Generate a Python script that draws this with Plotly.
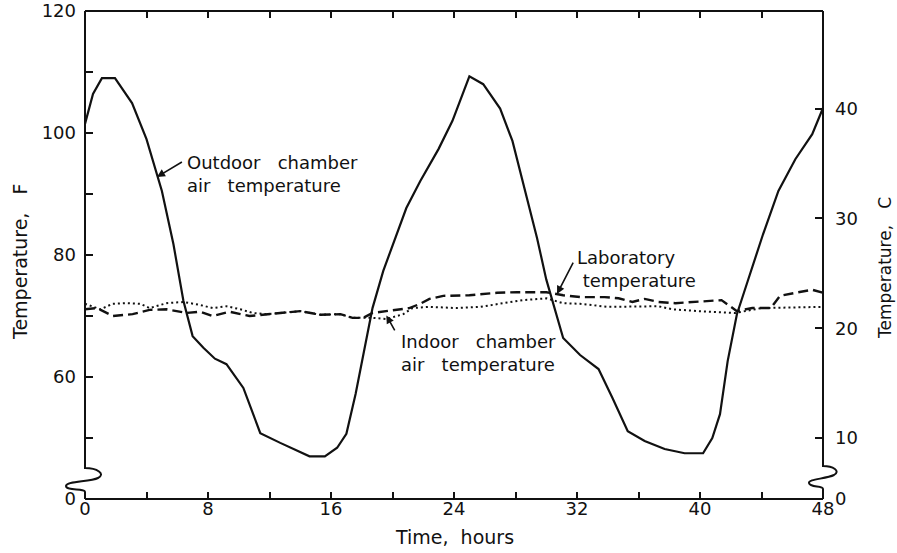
import plotly.graph_objects as go

# ---------------- data ----------------
outdoor_t = [0, 0.52, 1.1, 1.95, 3.06, 4.0, 5.0, 5.75, 6.4, 7.0, 7.7, 8.45, 9.2, 10.3, 11.4,
             12.7, 14.6, 15.6, 16.4, 17.0, 17.6, 18.1, 18.7, 19.4, 20.2, 20.9, 21.8, 23.0,
             23.9, 25.0, 25.9, 27.0, 27.8, 28.5, 29.4, 30.0, 30.7, 31.1, 32.2, 33.4, 34.3,
             35.3, 36.4, 37.7, 39.0, 40.2, 40.8, 41.3, 41.8, 42.4, 43.1, 44.1, 45.1, 46.2,
             47.3, 48.0]
outdoor_f = [101.5, 106.4, 109.0, 109.0, 104.9, 99.0, 90.5, 81.8, 72.5, 66.7, 64.8, 63.0, 62.1,
             58.2, 50.8, 49.2, 47.0, 47.0, 48.4, 50.7, 57.2, 63.8, 71.3, 77.4, 82.8, 87.7, 92.1,
             97.4, 102.0, 109.3, 108.0, 104.0, 98.7, 91.6, 82.8, 76.0, 69.7, 66.4, 63.6, 61.3,
             56.6, 51.1, 49.5, 48.2, 47.5, 47.5, 50.0, 53.9, 62.6, 70.3, 75.7, 83.4, 90.5,
             95.7, 99.8, 104.1]

lab_t = [0, 0.78, 1.82, 3.1, 4.2, 5.3, 6.6, 7.5, 8.3, 9.4, 10.7, 11.8, 12.7, 14.0, 15.3, 16.6,
         17.4, 18.1, 18.7, 20.3, 21.1, 21.8, 22.4, 23.3, 25.0, 26.8, 28.1, 30.0, 31.1, 32.2,
         33.8, 34.7, 35.6, 36.4, 37.3, 38.4, 39.7, 41.4, 42.4, 43.4, 44.6, 45.2, 46.2, 47.3,
         48.0]
lab_f = [71.1, 71.3, 70.0, 70.3, 71.0, 71.1, 70.5, 70.7, 70.0, 70.7, 70.0, 70.3, 70.5, 70.8,
         70.2, 70.3, 69.7, 69.7, 70.5, 71.1, 71.3, 72.0, 72.8, 73.3, 73.4, 73.8, 73.9, 73.9,
         73.4, 73.1, 73.1, 72.9, 72.3, 72.8, 72.3, 72.1, 72.3, 72.6, 70.8, 71.3, 71.3, 73.3,
         73.8, 74.3, 73.8]

indoor_t = [0, 1.0, 1.8, 2.7, 3.6, 4.2, 5.3, 6.4, 7.5, 8.3, 9.2, 10.1, 10.9, 11.8, 12.7, 14.0,
            15.3, 16.6, 17.4, 18.1, 18.7, 19.6, 20.7, 21.3, 22.4, 24.2, 25.7, 27.2, 28.5, 30.0,
            31.1, 32.2, 34.0, 37.3, 38.2, 39.9, 42.3, 44.0, 48.0]
indoor_f = [72.0, 71.1, 72.0, 72.1, 72.0, 71.3, 72.1, 72.3, 71.8, 71.3, 71.6, 71.1, 70.5, 70.3,
            70.5, 70.8, 70.2, 70.3, 69.7, 69.7, 69.7, 69.5, 70.3, 71.3, 71.5, 71.3, 71.5, 72.1,
            72.6, 72.9, 72.1, 72.0, 71.5, 71.6, 71.1, 70.8, 70.5, 71.3, 71.5]

x_tickvals = list(range(0, 49, 4))
x_ticktext = ["0", "", "8", "", "16", "", "24", "", "32", "", "40", "", "48"]
yF_tickvals = [40, 50, 60, 70, 80, 90, 100, 110, 120]
yF_ticktext = ["0", "", "60", "", "80", "", "100", "", "120"]
yC_tickvals = [(40 - 32) / 1.8, 10, 20, 30, 40]
yC_ticktext = ["0", "10", "20", "30", "40"]

F_RANGE = [40, 120]
C_RANGE = [(F_RANGE[0] - 32) / 1.8, (F_RANGE[1] - 32) / 1.8]

FONT = "DejaVu Sans"
BLACK = "#111111"
SP = "\u00a0\u00a0\u00a0"
SP2 = "\u00a0\u00a0"

fig = go.Figure()
fig.add_trace(go.Scatter(x=outdoor_t, y=outdoor_f, mode="lines",
                         line=dict(color=BLACK, width=2.2), hoverinfo="skip"))
fig.add_trace(go.Scatter(x=lab_t, y=lab_f, mode="lines",
                         line=dict(color=BLACK, width=2.4, dash="10px,5px"), hoverinfo="skip"))
fig.add_trace(go.Scatter(x=indoor_t, y=indoor_f, mode="lines",
                         line=dict(color=BLACK, width=2, dash="2px,3px"), hoverinfo="skip"))
# Celsius twin (invisible) so the right axis is drawn
fig.add_trace(go.Scatter(x=outdoor_t, y=[(v - 32) / 1.8 for v in outdoor_f], yaxis="y2",
                         mode="lines", line=dict(color="rgba(0,0,0,0)", width=0),
                         hoverinfo="skip"))

# plot area in pixels
L, R, T, B = 85, 823, 11, 499
W, H = R - L, B - T


def px(x):
    return (x - L) / W


def py(y):
    return (B - y) / H


left_path = (f"M {px(85)},{py(11)} L {px(85)},{py(468)} "
             f"C {px(97)},{py(468)} {px(106)},{py(474)} {px(98)},{py(478)} "
             f"C {px(90)},{py(482)} {px(66)},{py(481)} {px(66)},{py(486)} "
             f"C {px(66)},{py(491)} {px(85)},{py(488)} {px(85)},{py(492)} "
             f"L {px(85)},{py(499)}")
right_path = (f"M {px(823)},{py(11)} L {px(823)},{py(466)} "
              f"C {px(833)},{py(466)} {px(841)},{py(471)} {px(834)},{py(475)} "
              f"C {px(826)},{py(479)} {px(808)},{py(479)} {px(809)},{py(483)} "
              f"C {px(810)},{py(488)} {px(823)},{py(485)} {px(823)},{py(489)} "
              f"L {px(823)},{py(499)}")

shapes = [
    dict(type="line", xref="paper", yref="paper", x0=0, x1=1, y0=1, y1=1,
         line=dict(color=BLACK, width=2)),
    dict(type="line", xref="paper", yref="paper", x0=0, x1=1, y0=0, y1=0,
         line=dict(color=BLACK, width=2)),
    dict(type="path", xref="paper", yref="paper", path=left_path,
         line=dict(color=BLACK, width=2)),
    dict(type="path", xref="paper", yref="paper", path=right_path,
         line=dict(color=BLACK, width=2)),
]

ann_font = dict(family=FONT, size=18, color=BLACK)
annotations = [
    dict(x=6.5, y=93.3, xref="x", yref="y", xanchor="left", yanchor="middle",
         text=f"Outdoor{SP}chamber<br>air{SP}temperature", showarrow=False,
         align="left", font=ann_font),
    dict(x=31.9, y=77.7, xref="x", yref="y", xanchor="left", yanchor="middle",
         text="Laboratory<br>\u00a0temperature", showarrow=False, align="left", font=ann_font),
    dict(x=20.4, y=63.9, xref="x", yref="y", xanchor="left", yanchor="middle",
         text=f"Indoor{SP}chamber<br>air{SP}temperature", showarrow=False,
         align="left", font=ann_font),
    # arrows
    dict(x=4.68, y=92.8, ax=6.4, ay=95.4, xref="x", yref="y", axref="x", ayref="y", text="",
         showarrow=True, arrowhead=2, arrowsize=1, arrowwidth=1.6, arrowcolor=BLACK),
    dict(x=30.7, y=73.6, ax=31.8, ay=79.0, xref="x", yref="y", axref="x", ayref="y", text="",
         showarrow=True, arrowhead=2, arrowsize=1, arrowwidth=1.6, arrowcolor=BLACK),
    dict(x=19.6, y=70.1, ax=20.2, ay=67.4, xref="x", yref="y", axref="x", ayref="y", text="",
         showarrow=True, arrowhead=2, arrowsize=1, arrowwidth=1.6, arrowcolor=BLACK),
    # axis titles
    dict(x=0.5, y=0, xref="paper", yref="paper", yshift=-38, xanchor="center",
         yanchor="middle", text=f"Time,{SP2}hours", showarrow=False,
         font=dict(family=FONT, size=19, color=BLACK)),
    dict(x=0, y=py(262), xref="paper", yref="paper", xshift=-65, xanchor="center",
         yanchor="middle", text=f"Temperature,{SP}F", textangle=-90, showarrow=False,
         font=dict(family=FONT, size=19, color=BLACK)),
    dict(x=1, y=py(268), xref="paper", yref="paper", xshift=62, xanchor="center",
         yanchor="middle", text=f"Temperature,{SP}C", textangle=-90, showarrow=False,
         font=dict(family=FONT, size=17, color=BLACK)),
]

tick_font = dict(family=FONT, size=18, color=BLACK)
fig.update_layout(
    width=897, height=553,
    margin=dict(l=L, r=897 - R, t=T, b=553 - B, autoexpand=False),
    paper_bgcolor="white", plot_bgcolor="white",
    showlegend=False,
    shapes=shapes,
    annotations=annotations,
    xaxis=dict(range=[0, 48], tickvals=x_tickvals, ticktext=x_ticktext, ticks="inside",
               ticklen=7, tickwidth=1.5, tickcolor=BLACK, showline=False, showgrid=False,
               zeroline=False, mirror="ticks", tickfont=tick_font, fixedrange=True,
               ticklabelstandoff=-3),
    yaxis=dict(range=F_RANGE, tickvals=yF_tickvals, ticktext=yF_ticktext, ticks="inside",
               ticklen=8, tickwidth=1.5, tickcolor=BLACK, showline=False, showgrid=False,
               zeroline=False, tickfont=tick_font, fixedrange=True, ticklabelstandoff=8),
    yaxis2=dict(range=C_RANGE, tickvals=yC_tickvals, ticktext=yC_ticktext, ticks="inside",
                ticklen=8, tickwidth=1.5, tickcolor=BLACK, showline=False, showgrid=False,
                zeroline=False, overlaying="y", side="right", tickfont=tick_font,
                fixedrange=True, ticklabelstandoff=11),
)

fig.write_html("out.html")
